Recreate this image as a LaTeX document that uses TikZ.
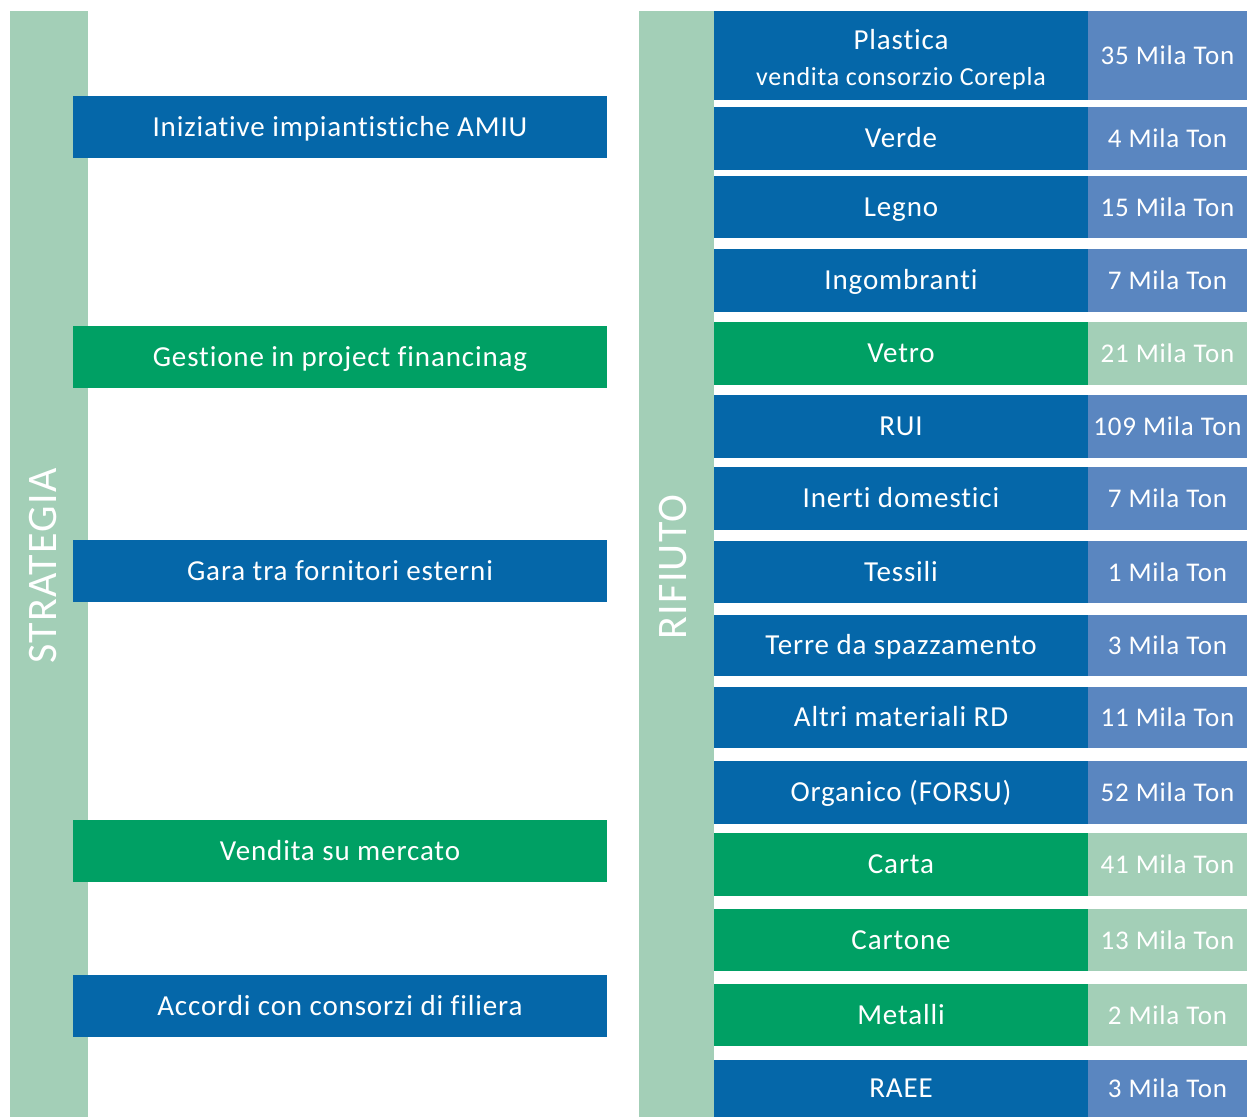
\documentclass[tikz,border=0pt]{standalone}
\usepackage{fontspec}
\setmainfont{Carlito}[LetterSpace=3,Ligatures=NoCommon]
\definecolor{cblue}{HTML}{0567A9}
\definecolor{cgreen}{HTML}{00A064}
\definecolor{clight}{HTML}{A3CFB7}
\definecolor{cvblue}{HTML}{5A86C0}
\begin{document}
\begin{tikzpicture}[x=1pt,y=-1pt,
  wcell/.style={rectangle,anchor=north west,inner sep=0pt,outer sep=0pt,text=white,align=center,text height=18.5pt,text depth=0pt},
  wstrat/.style={wcell,minimum width=534pt,minimum height=62pt,font=\fontsize{29}{36}\selectfont},
  wname/.style={wcell,minimum width=374pt,font=\fontsize{29}{36}\selectfont},
  wval/.style={wcell,minimum width=159pt,font=\fontsize{27}{32}\selectfont},
  wvlabel/.style={text=white,rotate=90,font=\fontsize{42}{48}\selectfont,inner sep=0pt}]
\useasboundingbox (0,0) rectangle (1247,1117);
% vertical bars
\node[wcell,fill=clight,minimum width=78pt,minimum height=1106pt] (lbar) at (10,11) {};
\node[wcell,fill=clight,minimum width=75pt,minimum height=1106pt] (rbar) at (639,11) {};
\node[wvlabel] (strategia) at (43,566) {STRATEGIA};
\node[wvlabel] (rifiuto) at (673,567) {RIFIUTO};
% strategy boxes
\node[wstrat,fill=cblue] (s1) at (73,96) {Iniziative impiantistiche AMIU};
\node[wstrat,fill=cgreen] (s2) at (73,326) {Gestione in project financinag};
\node[wstrat,fill=cblue] (s3) at (73,540) {Gara tra fornitori esterni};
\node[wstrat,fill=cgreen] (s4) at (73,820) {Vendita su mercato};
\node[wstrat,fill=cblue] (s5) at (73,975) {Accordi con consorzi di filiera};
% rows
\newcommand{\wrow}[7]{%
  \node[wname,fill=#4,minimum height={(#3-#2)*1pt}] (n#1) at (714,#2) {#6};
  \node[wval,fill=#5,minimum height={(#3-#2)*1pt}] (v#1) at (1088,#2) {#7};}
\node[wname,fill=cblue,minimum height=89pt,text height=60pt] (n1) at (714,11) {Plastica\\\fontsize{26}{36}\selectfont vendita consorzio Corepla};
\node[wval,fill=cvblue,minimum height=89pt] (v1) at (1088,11) {35 Mila Ton};
\wrow{2}{107}{170}{cblue}{cvblue}{Verde}{4 Mila Ton}
\wrow{3}{176}{238}{cblue}{cvblue}{Legno}{15 Mila Ton}
\wrow{4}{249}{312}{cblue}{cvblue}{Ingombranti}{7 Mila Ton}
\wrow{5}{322}{385}{cgreen}{clight}{Vetro}{21 Mila Ton}
\wrow{6}{395}{458}{cblue}{cvblue}{RUI}{109 Mila Ton}
\wrow{7}{467}{530}{cblue}{cvblue}{Inerti domestici}{7 Mila Ton}
\wrow{8}{541}{603}{cblue}{cvblue}{Tessili}{1 Mila Ton}
\wrow{9}{615}{676}{cblue}{cvblue}{Terre da spazzamento}{3 Mila Ton}
\wrow{10}{687}{748}{cblue}{cvblue}{Altri materiali RD}{11 Mila Ton}
\wrow{11}{761}{824}{cblue}{cvblue}{Organico (FORSU)}{52 Mila Ton}
\wrow{12}{833}{896}{cgreen}{clight}{Carta}{41 Mila Ton}
\wrow{13}{909}{971}{cgreen}{clight}{Cartone}{13 Mila Ton}
\wrow{14}{984}{1046}{cgreen}{clight}{Metalli}{2 Mila Ton}
\wrow{15}{1060}{1117}{cblue}{cvblue}{RAEE}{3 Mila Ton}
\end{tikzpicture}
\end{document}
